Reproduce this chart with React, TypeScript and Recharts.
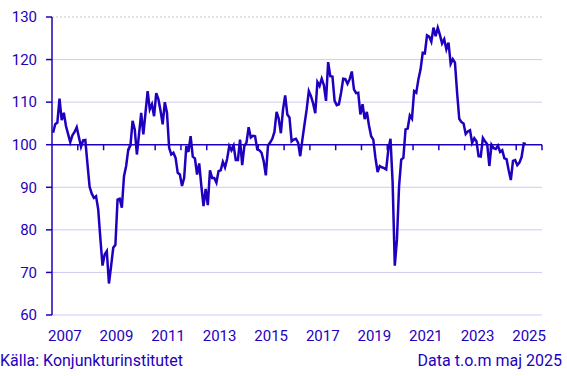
import { LineChart, Line, XAxis, YAxis, ReferenceLine } from "recharts"

// Barometerindikatorn, månadsvärden jan 2007 – maj 2025
const v2007 = [102.8, 104.8, 105.2, 110.8, 105.8, 107.5, 104.4, 102.5, 100.6, 102.2, 103, 104.1]
const v2008 = [101.8, 99.5, 101, 101.1, 95.5, 90.1, 88.5, 87.5, 87.9, 84.8, 78, 71.6]
const v2009 = [74.2, 75, 67.4, 71.5, 75.8, 76.5, 87.1, 87.3, 85.2, 92.6, 95, 98.9]
const v2010 = [99.8, 105.6, 103.6, 97.7, 102.5, 107.5, 102.4, 107.5, 112.6, 108.3, 109.5, 106.7]
const v2011 = [112.1, 110.7, 108, 104.8, 110, 107.5, 99.3, 97.7, 98.1, 96.9, 93.4, 93]
const v2012 = [90.3, 92.2, 99.7, 98.3, 102, 97.2, 96.8, 93, 95.6, 90.3, 85.6, 89.6]
const v2013 = [85.8, 94, 92.2, 92.2, 91.1, 93.8, 94, 96, 94.7, 96.7, 99.7, 98.7]
const v2014 = [99.8, 96.4, 96.4, 101.2, 95.2, 99.7, 100.5, 104.1, 101.7, 102.1, 102, 98.9]
const v2015 = [98.7, 98.1, 96.1, 92.8, 99.8, 100.5, 101.4, 103, 107.7, 106.1, 102.7, 108.3]
const v2016 = [111.6, 107.1, 106.4, 100.8, 101.2, 101.4, 100.5, 97.3, 101.2, 104.8, 108.3, 112.6]
const v2017 = [111.4, 109.7, 107.4, 114.7, 113.8, 115.5, 114, 110.3, 119.4, 116.1, 116, 110.3]
const v2018 = [109.3, 109.5, 112.2, 115.5, 115.4, 114.3, 115.4, 117.2, 113, 112.1, 112.2, 107.1]
const v2019 = [109.5, 106, 107.7, 104.5, 102, 101.2, 96.9, 93.6, 95, 94.7, 94.5, 94.2]
const v2020 = [98.9, 101.4, 91.1, 71.6, 77.7, 90.3, 96.5, 96.9, 103.6, 103.8, 106.9, 106.1]
const v2021 = [112.6, 112.2, 115.4, 117.7, 121.6, 121.5, 125.7, 125.4, 124.2, 127.5, 125.5, 127.5]
const v2022 = [125.8, 123.8, 124.8, 122.4, 124, 119, 120.1, 119.3, 112.2, 106.1, 105.3, 105]
const v2023 = [102.5, 103.1, 103.4, 100.4, 101.5, 100.8, 97.3, 97.2, 101.6, 100.8, 100.1, 95]
const v2024 = [100, 99.2, 99, 99.8, 98.3, 98.7, 96.8, 96.6, 94, 91.7, 96.2, 96.4]
const v2025 = [95.2, 95.8, 97.1, 100.3, 100.2]

const firstYear = 2007
const yearValues = [
  v2007, v2008, v2009, v2010, v2011, v2012, v2013, v2014, v2015, v2016,
  v2017, v2018, v2019, v2020, v2021, v2022, v2023, v2024, v2025,
]

const yTicks = [60, 70, 80, 90, 100, 110, 120, 130]
const gridValues = [60, 70, 80, 90, 110, 120]
const yearLabels = [2007, 2009, 2011, 2013, 2015, 2017, 2019, 2021, 2023, 2025]
const yearBreaks = [2008, 2009, 2010, 2011, 2012, 2013, 2014, 2015, 2016, 2017, 2018, 2019, 2020, 2021, 2022, 2023, 2024, 2025, 2026]

const data = yearValues.flatMap((vals, y) => vals.map((v, k) => ({ m: y * 12 + k, value: v })))

const blue = "#1e00be"
const gridColor = "#cfcaf2"
const font = "Roboto, sans-serif"

export default function App() {
  return (
    <div style={{ position: "absolute", left: 0, top: 0, width: 567, height: 376, fontFamily: font, background: "#fff" }}>
      <LineChart width={567} height={350} data={data} margin={{ top: 17, right: 25, bottom: 0, left: 0 }}>
        {gridValues.map((g) => (
          <ReferenceLine key={g} y={g} stroke={gridColor} strokeWidth={1} />
        ))}
        <ReferenceLine y={130} stroke="#c8c8c8" strokeDasharray="2 2" />
        <XAxis
          type="number"
          dataKey="m"
          domain={[-0.5, 227.5]}
          ticks={yearLabels.map((y) => (y - firstYear) * 12 + 5.5)}
          tickFormatter={(t) => String(firstYear + Math.floor(t / 12))}
          axisLine={false}
          tickLine={false}
          tickSize={0}
          tickMargin={15}
          height={35}
          interval={0}
          allowDataOverflow
          tick={{ fill: blue, fontSize: 15, fontFamily: font }}
        />
        <YAxis
          domain={[60, 130]}
          ticks={yTicks}
          interval={0}
          width={52}
          axisLine={{ stroke: blue, strokeWidth: 1.5 }}
          tickLine={{ stroke: blue, strokeWidth: 1.5 }}
          tickSize={6}
          tickMargin={9}
          tick={{ fill: blue, fontSize: 15, fontFamily: font }}
        />
        <ReferenceLine y={100} stroke={blue} strokeWidth={1.5} />
        {yearBreaks.map((y) => {
          const b = (y - firstYear) * 12 - 0.5
          return (
            <ReferenceLine
              key={y}
              ifOverflow="visible"
              segment={[{ x: b, y: 100 }, { x: b, y: 98.7 }]}
              stroke={blue}
              strokeWidth={1.5}
            />
          )
        })}
        <Line
          type="linear"
          dataKey="value"
          stroke={blue}
          strokeWidth={2.5}
          dot={false}
          isAnimationActive={false}
        />
      </LineChart>
      <div style={{ position: "absolute", left: 0, top: 351, fontSize: 16, color: blue }}>
        Källa: Konjunkturinstitutet
      </div>
      <div style={{ position: "absolute", right: 5, top: 351, fontSize: 16, color: blue }}>
        Data t.o.m maj 2025
      </div>
    </div>
  )
}
